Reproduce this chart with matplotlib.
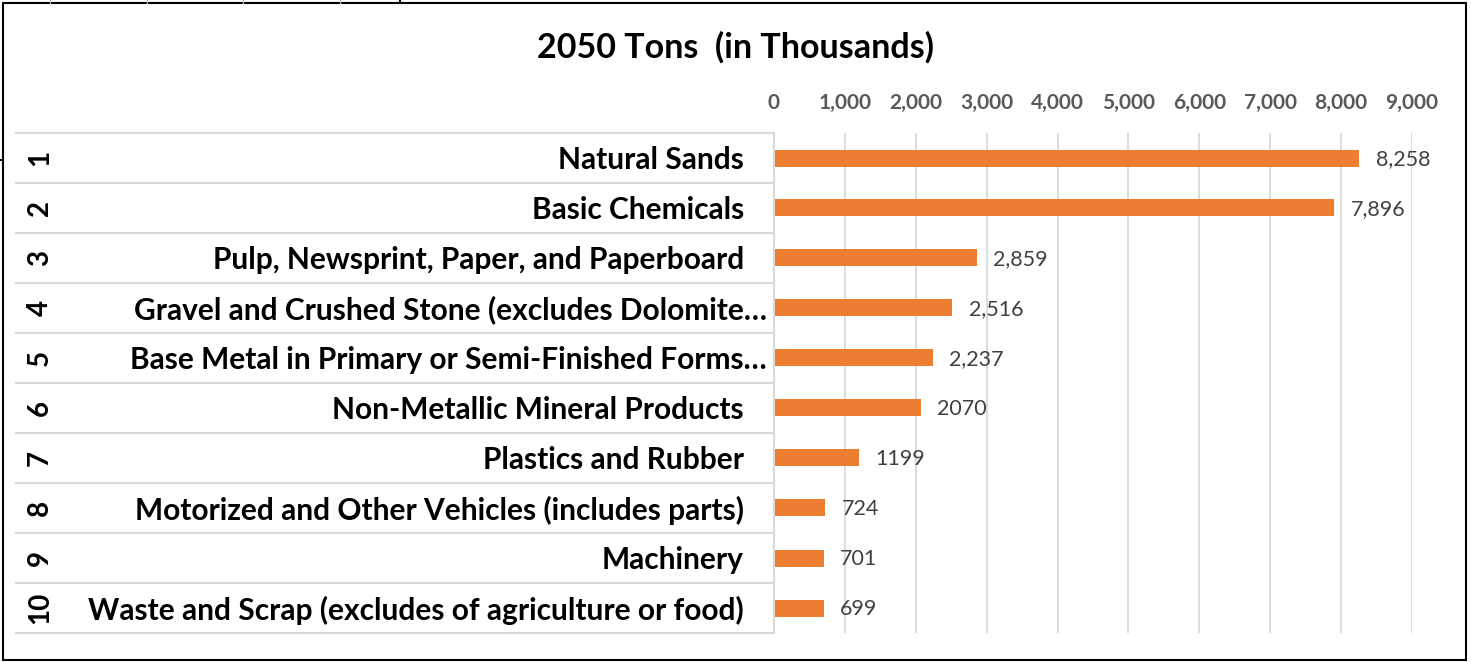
import numpy as np
import matplotlib

matplotlib.use("Agg")
import matplotlib.pyplot as plt
from matplotlib.lines import Line2D
from matplotlib.patches import Rectangle

W, H = 1471, 662

ranks = list(range(1, 11))
labels = [
    "Natural Sands",
    "Basic Chemicals",
    "Pulp, Newsprint, Paper, and Paperboard",
    "Gravel and Crushed Stone (excludes Dolomite\u2026",
    "Base Metal in Primary or Semi-Finished Forms\u2026",
    "Non-Metallic Mineral Products",
    "Plastics and Rubber",
    "Motorized and Other Vehicles (includes parts)",
    "Machinery",
    "Waste and Scrap (excludes of agriculture or food)",
]
values = [8258, 7896, 2859, 2516, 2237, 2070, 1199, 724, 701, 699]
value_text = ["8,258", "7,896", "2,859", "2,516", "2,237", "2070", "1199", "724", "701", "699"]
ticks = list(range(0, 10000, 1000))
title = "2050 Tons  (in Thousands)"

ORANGE = "#ED7D31"
GRID = "#d9d9d9"
FONT = "Lato"

plt.rcParams["font.family"] = [FONT, "DejaVu Sans"]


def fx(x):
    return x / W


def fy(y):
    return 1 - y / H


fig = plt.figure(figsize=(W / 100, H / 100), dpi=100)

# plot area in pixel coordinates
X0, X1, Y0, Y1 = 774, 1412, 133, 633
ax = fig.add_axes([fx(X0), fy(Y1), fx(X1) - fx(X0), fy(Y0) - fy(Y1)])
y = np.arange(len(values))
ax.barh(y, values, height=0.34, color=ORANGE, zorder=3)
ax.set_xlim(0, 9000)
ax.set_ylim(len(values) - 0.5, -0.5)
ax.set_xticks(ticks)
ax.set_xticklabels([f"{t:,}" for t in ticks])
ax.xaxis.tick_top()
ax.tick_params(axis="x", length=0, pad=14.5, labelsize=15, labelcolor="#595959")
for lbl in ax.get_xticklabels():
    lbl.set_fontweight("bold")
ax.set_yticks([])
ax.grid(axis="x", color=GRID, lw=1.3, zorder=0)
for s in ax.spines.values():
    s.set_visible(False)
for yi, v, t in zip(y, values, value_text):
    ax.annotate(t, (v, yi), xytext=(12, -1), textcoords="offset points",
                va="center", ha="left", fontsize=15.5, color="#404040")

# left table: row separators, right edge, rank numbers and category labels
rows = np.linspace(Y0, Y1, len(values) + 1)
for r in rows:
    fig.add_artist(Line2D([fx(16), fx(X0)], [fy(r), fy(r)], color=GRID, lw=1.5))
fig.add_artist(Line2D([fx(X0), fx(X0)], [fy(Y0), fy(Y1)], color=GRID, lw=1.5))
centers = (rows[:-1] + rows[1:]) / 2
for c, rk, lab in zip(centers, ranks, labels):
    fig.text(fx(40), fy(c), str(rk), rotation=90, ha="center", va="center",
             fontsize=20, fontweight="bold")
    xr = 767 if lab.endswith("\u2026") else 744
    fig.text(fx(xr), fy(c + 2), lab, ha="right", va="center", fontsize=21.5,
             fontweight="bold")

fig.text(0.5, fy(47), title, ha="center", va="center", fontsize=24.5,
         fontweight="bold")

# chart frame and stray cell-border marks
fig.add_artist(Rectangle((fx(3), fy(660)), fx(1466) - fx(3), fy(3) - fy(660),
                         fill=False, ec="black", lw=1.5))
for xm in (50, 147, 243, 340):
    fig.add_artist(Line2D([fx(xm), fx(xm)], [fy(0), fy(3)], color="#bbbbbb", lw=1))
fig.add_artist(Line2D([fx(400), fx(400)], [fy(0), fy(3)], color="black", lw=1.5))
fig.add_artist(Line2D([fx(0), fx(3)], [fy(160), fy(160)], color="black", lw=1.5))

fig.savefig("out.png", dpi=100)
